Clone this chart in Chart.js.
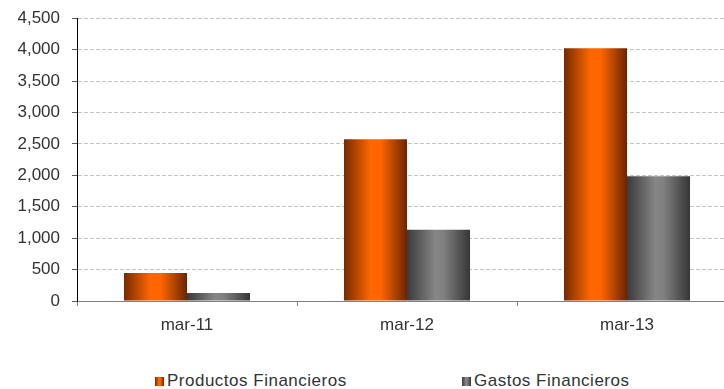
<!DOCTYPE html>
<html>
<head>
<meta charset="utf-8">
<script src="https://cdn.jsdelivr.net/npm/chart.js@4/dist/chart.umd.min.js"></script>
<style>
  html, body { margin: 0; padding: 0; background: #fff; overflow: hidden; }
  #wrap { position: relative; width: 724px; height: 389px; overflow: hidden; }
  #chart-box { position: absolute; left: 0; top: -4px; width: 740px; height: 349px; }
  #legend { position: absolute; left: 0; top: 372px; width: 724px; height: 17px;
    font: 17px Arial, "Liberation Sans", sans-serif; letter-spacing: 0.5px; line-height: 17px; color: #333; }
  .legend-item { position: absolute; top: 0; white-space: nowrap; }
  .legend-box { display: inline-block; width: 9px; height: 9px; margin-right: 3px; vertical-align: 0; }
</style>
</head>
<body>
<div id="wrap">
  <div id="chart-box"><canvas id="main-chart"></canvas></div>
  <div id="legend"></div>
</div>
<script>
const labels = ['mar-11', 'mar-12', 'mar-13'];
const seriesNames = ['Productos Financieros', 'Gastos Financieros'];
const productos = [445, 2575, 4020];
const gastos = [127, 1134, 1987];
const yTicks = [0, 500, 1000, 1500, 2000, 2500, 3000, 3500, 4000, 4500];

// horizontal shading of each bar: dark edges, bright middle
const orangeStops = [[0, '#762a00'], [0.42, '#ff6600'], [0.58, '#ff6600'], [1, '#6a2600']];
const grayStops = [[0, '#3a3a3a'], [0.45, '#868686'], [0.58, '#808080'], [1, '#363636']];
const legendLeft = [155, 462];

const CAT_PCT = 0.573;

function barFill(stops, solid) {
  return (c) => {
    const chart = c.chart;
    if (c.type !== 'data' || !chart.chartArea) return solid;
    const x = chart.scales.x;
    const w = (x.width / labels.length) * CAT_PCT / 2;
    const mid = x.getPixelForValue(c.dataIndex);
    const left = c.datasetIndex === 0 ? mid - w : mid;
    const g = chart.ctx.createLinearGradient(left, 0, left + w, 0);
    stops.forEach(([p, col]) => g.addColorStop(p, col));
    return g;
  };
}

Chart.defaults.font.family = 'Arial, "Liberation Sans", sans-serif';
Chart.defaults.color = '#333';

const ctx = document.getElementById('main-chart').getContext('2d');
const chart = new Chart(ctx, {
  type: 'bar',
  data: {
    labels: labels,
    datasets: [
      {
        label: seriesNames[0],
        data: productos,
        backgroundColor: barFill(orangeStops, '#ff6600'),
        borderWidth: 0,
      },
      {
        label: seriesNames[1],
        data: gastos,
        backgroundColor: barFill(grayStops, '#808080'),
        borderWidth: 0,
      },
    ],
  },
  options: {
    responsive: true,
    maintainAspectRatio: false,
    animation: false,
    layout: { padding: { top: 0, right: 3, left: 0, bottom: 0 } },
    datasets: { bar: { categoryPercentage: CAT_PCT, barPercentage: 1 } },
    plugins: {
      legend: { display: false },
      tooltip: { enabled: false },
    },
    scales: {
      x: {
        grid: {
          offset: true,
          drawOnChartArea: false,
          drawTicks: true,
          tickLength: 5,
          color: '#808080',
          tickColor: '#808080',
        },
        border: { color: '#808080', width: 1 },
        ticks: { font: { size: 17 }, padding: 9, color: '#333' },
        afterFit: (s) => { s.height = 44; },
      },
      y: {
        min: 0,
        max: 4500,
        afterBuildTicks: (s) => { s.ticks = yTicks.map(v => ({ value: v })); },
        grid: {
          color: (c) => (c.tick && c.tick.value === 0 ? 'rgba(0,0,0,0)' : '#c4c4c4'),
          tickColor: '#595959',
          tickLength: 5,
          tickBorderDash: [],
        },
        border: { color: '#000', width: 1, dash: [4, 2] },
        ticks: {
          font: { size: 17 },
          padding: 12,
          color: '#333',
          callback: (v) => v.toLocaleString('en-US'),
        },
        afterFit: (s) => { s.width = 77; },
      },
    },
  },
});

// legend below the plot, built from the datasets
const legendEl = document.getElementById('legend');
const legendFills = [orangeStops, grayStops];
chart.data.datasets.forEach((ds, i) => {
  const item = document.createElement('span');
  item.className = 'legend-item';
  item.style.left = legendLeft[i] + 'px';
  const box = document.createElement('span');
  box.className = 'legend-box';
  box.style.background = 'linear-gradient(to right, ' +
    legendFills[i].map(([p, col]) => col + ' ' + Math.round(p * 100) + '%').join(', ') + ')';
  item.appendChild(box);
  item.appendChild(document.createTextNode(ds.label));
  legendEl.appendChild(item);
});
</script>
</body>
</html>
